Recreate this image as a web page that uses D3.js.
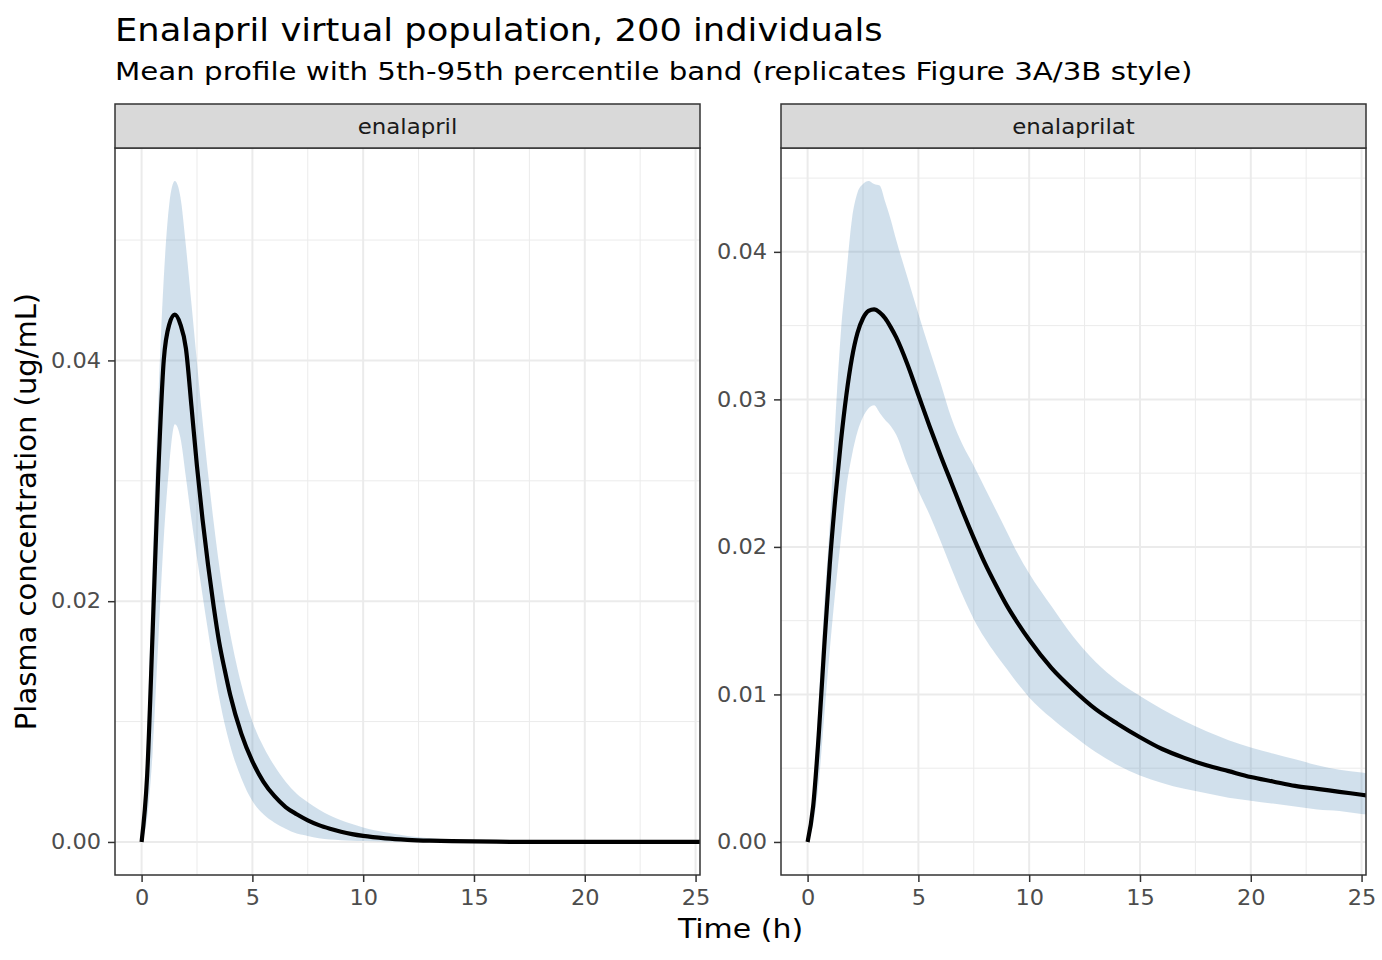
<!DOCTYPE html>
<html>
<head>
<meta charset="utf-8">
<script src="https://cdn.jsdelivr.net/npm/d3@7"></script>
<style>
  body { margin: 0; background: #fff; }
  text { font-family: "DejaVu Sans", sans-serif; }
</style>
</head>
<body>
<div id="chart"></div>
<script>
// time grid (h), shared by every series
const times = [0, 0.25, 0.5, 0.75, 1, 1.25, 1.5, 1.75, 2, 2.25, 2.5, 2.75, 3, 3.25, 3.5, 3.75, 4,
  4.5, 5, 5.5, 6, 6.5, 7, 7.5, 8, 8.5, 9, 9.5, 10, 11, 12, 13, 14, 15, 16, 17, 18, 19, 20,
  21, 22, 23, 24, 25, 26];

// enalapril (ug/mL)
const enalaprilMean = [0, 0.0055, 0.0175, 0.0305, 0.0400, 0.0430, 0.0438, 0.0430, 0.0410, 0.0362,
  0.0312, 0.0268, 0.0230, 0.0196, 0.0166, 0.0143, 0.0122, 0.0090, 0.0067, 0.0050, 0.0038, 0.0029,
  0.0023, 0.0018, 0.0014, 0.0011, 0.00085, 0.00065, 0.0005, 0.0003, 0.00018, 0.00011, 0.00007,
  0.00004, 0.00002, 0.00001, 0.00001, 0.00001, 0, 0, 0, 0, 0, 0, 0];
const enalaprilP5 = [0, 0.002, 0.0075, 0.0165, 0.0252, 0.0313, 0.0347, 0.0336, 0.0303, 0.0268,
  0.0236, 0.0205, 0.0175, 0.0146, 0.0120, 0.0098, 0.0080, 0.0053, 0.0034, 0.0023, 0.0016, 0.0011,
  0.0007, 0.0005, 0.0003, 0.0002, 0.00015, 0.0001, 0.00007, 0.00004, 0.00002, 0.00001, 0, 0, 0,
  0, 0, 0, 0, 0, 0, 0, 0, 0, 0];
const enalaprilP95 = [0, 0.0085, 0.0235, 0.0365, 0.0468, 0.0530, 0.0549, 0.0536, 0.0495, 0.0447,
  0.0398, 0.0350, 0.0306, 0.0266, 0.0230, 0.0199, 0.0173, 0.0131, 0.0100, 0.0079, 0.0063, 0.0050,
  0.0040, 0.0033, 0.0027, 0.0022, 0.0018, 0.0015, 0.0012, 0.0008, 0.0005, 0.0003, 0.0002, 0.00012,
  0.00008, 0.00005, 0.00003, 0.00002, 0.00001, 0, 0, 0, 0, 0, 0];

// enalaprilat (ug/mL)
const enalaprilatMean = [0, 0.0024, 0.0072, 0.0132, 0.0188, 0.0233, 0.0271, 0.0303, 0.0328, 0.0345,
  0.0355, 0.0360, 0.0361, 0.0359, 0.0355, 0.0349, 0.0342, 0.0324, 0.0303, 0.0282, 0.0262, 0.0243,
  0.0224, 0.0206, 0.0189, 0.0174, 0.0160, 0.0148, 0.0137, 0.0118, 0.0103, 0.0090, 0.0080, 0.0071,
  0.0063, 0.0057, 0.0052, 0.0048, 0.0044, 0.0041, 0.0038, 0.0036, 0.0034, 0.0032, 0.0030];
const enalaprilatP5 = [0, 0.0012, 0.0040, 0.0085, 0.0130, 0.0170, 0.0205, 0.0240, 0.0262, 0.0278,
  0.0288, 0.0294, 0.0296, 0.0291, 0.0286, 0.0282, 0.0276, 0.0256, 0.0238, 0.0222, 0.0204, 0.0185,
  0.0167, 0.0151, 0.0138, 0.0127, 0.0117, 0.0107, 0.0098, 0.0084, 0.0072, 0.0061, 0.0052, 0.0045,
  0.0040, 0.0036, 0.0033, 0.0030, 0.0028, 0.0026, 0.0024, 0.0022, 0.0021, 0.0019, 0.0018];
const enalaprilatP95 = [0, 0.0035, 0.0095, 0.0160, 0.0215, 0.0285, 0.0345, 0.0385, 0.0422, 0.0440,
  0.0446, 0.0448, 0.0446, 0.0445, 0.0434, 0.0422, 0.0408, 0.0383, 0.0358, 0.0334, 0.0311, 0.0287,
  0.0269, 0.0255, 0.0240, 0.0225, 0.0210, 0.0195, 0.0182, 0.0160, 0.0139, 0.0122, 0.0109, 0.0099,
  0.0090, 0.0082, 0.0075, 0.0069, 0.0064, 0.0060, 0.0056, 0.0052, 0.0049, 0.0047, 0.0045];

// axis ticks
const xTicks = [0, 5, 10, 15, 20, 25];
const enalaprilTicks = [0, 0.02, 0.04];
const enalaprilatTicks = [0, 0.01, 0.02, 0.03, 0.04];

const titleText = "Enalapril virtual population, 200 individuals";
const subtitleText = "Mean profile with 5th-95th percentile band (replicates Figure 3A/3B style)";

drawChart();

// text drawn a little wider than the font, like the source render
function label(parent, x, y, str, size, sx, anchor) {
  return parent.append("text")
    .attr("transform", `translate(${x},${y}) scale(${sx},1)`)
    .attr("text-anchor", anchor || "start")
    .attr("font-size", size)
    .text(str);
}

function drawChart() {
  const width = 1382;
  const height = 960;

  const svg = d3.select("#chart").append("svg")
    .attr("width", width)
    .attr("height", height);

  // facet layout (ggplot theme_bw look)
  const panelTop = 148, panelBottom = 875;
  const stripTop = 104;
  const facets = [
    { name: "enalapril", left: 115, right: 700, mean: enalaprilMean, lo: enalaprilP5, hi: enalaprilP95, ticks: enalaprilTicks },
    { name: "enalaprilat", left: 781, right: 1366, mean: enalaprilatMean, lo: enalaprilatP5, hi: enalaprilatP95, ticks: enalaprilatTicks }
  ];

  const fmt = d3.format(".2f");

  facets.forEach((f, fi) => {
    const rows = times.map((t, i) => ({ t, mean: f.mean[i], lo: f.lo[i], hi: f.hi[i] }));

    // x limited to 0-24 h plus 5% expansion, data beyond is clipped
    const x = d3.scaleLinear().domain([-1.2, 25.2]).range([f.left, f.right]);
    const yMax = d3.max(rows, d => d.hi);
    const y = d3.scaleLinear()
      .domain([-0.05 * yMax, yMax * 1.05])
      .range([panelBottom, panelTop]);

    const g = svg.append("g");

    g.append("rect")
      .attr("x", f.left).attr("y", panelTop)
      .attr("width", f.right - f.left).attr("height", panelBottom - panelTop)
      .attr("fill", "#fff");

    // minor grid: midpoints between major ticks
    const step = f.ticks[1] - f.ticks[0];
    const yMinor = d3.range(f.ticks[0] - step / 2, y.domain()[1], step).filter(v => v > y.domain()[0]);
    const xMinor = xTicks.map(v => v + 2.5).filter(v => v < x.domain()[1]);

    g.selectAll(".ymin").data(yMinor).join("line")
      .attr("x1", f.left).attr("x2", f.right)
      .attr("y1", d => y(d)).attr("y2", d => y(d))
      .attr("stroke", "#EBEBEB").attr("stroke-width", 1);
    g.selectAll(".xmin").data(xMinor).join("line")
      .attr("y1", panelTop).attr("y2", panelBottom)
      .attr("x1", d => x(d)).attr("x2", d => x(d))
      .attr("stroke", "#EBEBEB").attr("stroke-width", 1);
    g.selectAll(".ymaj").data(f.ticks).join("line")
      .attr("x1", f.left).attr("x2", f.right)
      .attr("y1", d => y(d)).attr("y2", d => y(d))
      .attr("stroke", "#EBEBEB").attr("stroke-width", 2);
    g.selectAll(".xmaj").data(xTicks).join("line")
      .attr("y1", panelTop).attr("y2", panelBottom)
      .attr("x1", d => x(d)).attr("x2", d => x(d))
      .attr("stroke", "#EBEBEB").attr("stroke-width", 2);

    const clipId = "clip-" + fi;
    svg.append("clipPath").attr("id", clipId)
      .append("rect")
      .attr("x", f.left).attr("y", panelTop)
      .attr("width", f.right - f.left).attr("height", panelBottom - panelTop);

    const marks = g.append("g").attr("clip-path", `url(#${clipId})`);

    const area = d3.area()
      .curve(d3.curveMonotoneX)
      .x(d => x(d.t))
      .y0(d => y(d.lo))
      .y1(d => y(d.hi));
    marks.append("path")
      .datum(rows)
      .attr("d", area)
      .attr("fill", "steelblue")
      .attr("fill-opacity", 0.25);

    const line = d3.line()
      .curve(d3.curveMonotoneX)
      .x(d => x(d.t))
      .y(d => y(d.mean));
    marks.append("path")
      .datum(rows)
      .attr("d", line)
      .attr("fill", "none")
      .attr("stroke", "#000")
      .attr("stroke-width", 4.2);

    g.append("rect")
      .attr("x", f.left).attr("y", panelTop)
      .attr("width", f.right - f.left).attr("height", panelBottom - panelTop)
      .attr("fill", "none").attr("stroke", "#333333").attr("stroke-width", 1.5);

    // strip
    g.append("rect")
      .attr("x", f.left).attr("y", stripTop)
      .attr("width", f.right - f.left).attr("height", panelTop - stripTop)
      .attr("fill", "#D9D9D9").attr("stroke", "#333333").attr("stroke-width", 1.5);
    label(g, (f.left + f.right) / 2, 134, f.name, 21, 1.09, "middle")
      .attr("fill", "#1A1A1A");

    // axes
    const yAxis = d3.axisLeft(y).tickValues(f.ticks).tickFormat(fmt).tickSize(7).tickPadding(6);
    const ya = g.append("g").attr("transform", `translate(${f.left},0)`).call(yAxis);
    const xAxis = d3.axisBottom(x).tickValues(xTicks).tickFormat(d3.format("d")).tickSize(7).tickPadding(8);
    const xa = g.append("g").attr("transform", `translate(0,${panelBottom})`).call(xAxis);
    [ya, xa].forEach(a => {
      a.select(".domain").remove();
      a.selectAll(".tick line").attr("stroke", "#333333").attr("stroke-width", 1.5);
      a.selectAll(".tick text")
        .attr("fill", "#4D4D4D")
        .attr("font-size", 21)
        .attr("font-family", "DejaVu Sans")
        .attr("transform", "scale(1.07,1)");
    });
  });

  // titles
  label(svg, 115, 41, titleText, 31.5, 1.12).attr("fill", "#000");
  label(svg, 115, 80, subtitleText, 24, 1.22).attr("fill", "#000");

  label(svg, (115 + 1366) / 2, 938, "Time (h)", 27, 1.11, "middle").attr("fill", "#000");

  svg.append("text")
    .attr("transform", `translate(36,${(panelTop + panelBottom) / 2}) rotate(-90)`)
    .attr("text-anchor", "middle")
    .attr("font-size", 29)
    .attr("fill", "#000")
    .text("Plasma concentration (ug/mL)");
}
</script>
</body>
</html>
